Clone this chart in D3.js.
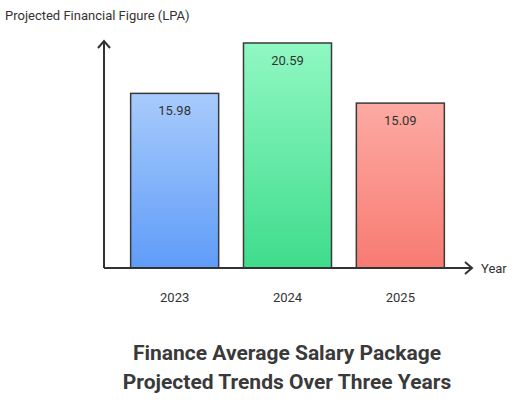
<!DOCTYPE html>
<html><head><meta charset="utf-8">
<script src="https://cdn.jsdelivr.net/npm/d3@7"></script>
<style>body{margin:0;background:#fff}</style>
</head><body>
<div id="chart"></div>
<script>
const years = ['2023', '2024', '2025'];
const values = [15.98, 20.59, 15.09];
const topColors = ['#a8cbfc', '#90f8c3', '#fcaaa3'];
const bottomColors = ['#5f9cf8', '#3fdc8c', '#f77b72'];

const svg = d3.select('#chart').append('svg')
  .attr('width', 512).attr('height', 407)
  .style('font-family', 'Roboto, sans-serif');

const defs = svg.append('defs');
years.forEach((y, i) => {
  const g = defs.append('linearGradient').attr('id', 'g' + i)
    .attr('x1', 0).attr('y1', 0).attr('x2', 0).attr('y2', 1);
  g.append('stop').attr('offset', '0%').attr('stop-color', topColors[i]);
  g.append('stop').attr('offset', '100%').attr('stop-color', bottomColors[i]);
});

const x = d3.scaleBand().domain(years).range([125, 450])
  .paddingInner(0.22).paddingOuter(0.05);
const y = d3.scaleLinear().domain([0, 20.59]).range([268, 43]);

// bars
svg.selectAll('.bar').data(values).enter().append('rect')
  .attr('x', (d, i) => x(years[i]))
  .attr('y', d => y(d))
  .attr('width', x.bandwidth())
  .attr('height', d => y(0) - y(d))
  .attr('fill', (d, i) => `url(#g${i})`)
  .attr('stroke', '#3a3a3a').attr('stroke-width', 1.5);

svg.selectAll('.val').data(values).enter().append('text')
  .attr('x', (d, i) => x(years[i]) + x.bandwidth() / 2)
  .attr('y', d => y(d) + 22)
  .attr('text-anchor', 'middle').attr('font-size', 13).attr('fill', '#333')
  .text(d => d.toFixed(2));

// axes with arrows
const ax = svg.append('g').attr('stroke', '#333').attr('stroke-width', 2).attr('fill', 'none');
ax.append('path').attr('d', 'M104,268 V41');
ax.append('path').attr('d', 'M98,48 L104,41 L110,48');
ax.append('path').attr('d', 'M104,268 H472');
ax.append('path').attr('d', 'M465,262 L472,268 L465,274');

svg.selectAll('.tick').data(years).enter().append('text')
  .attr('x', d => x(d) + x.bandwidth() / 2).attr('y', 302)
  .attr('text-anchor', 'middle').attr('font-size', 13).attr('fill', '#333')
  .text(d => d);

svg.append('text').attr('x', 481).attr('y', 273).attr('font-size', 13).attr('fill', '#333').text('Year');
svg.append('text').attr('x', 5).attr('y', 20).attr('font-size', 13).attr('fill', '#333')
  .text('Projected Financial Figure (LPA)');

const title = svg.append('text').attr('text-anchor', 'middle').attr('font-size', 21)
  .attr('font-weight', 'bold').attr('fill', '#3a3a3a');
title.append('tspan').attr('x', 287).attr('y', 360).text('Finance Average Salary Package');
title.append('tspan').attr('x', 287).attr('y', 389).text('Projected Trends Over Three Years');
</script>
</body></html>
